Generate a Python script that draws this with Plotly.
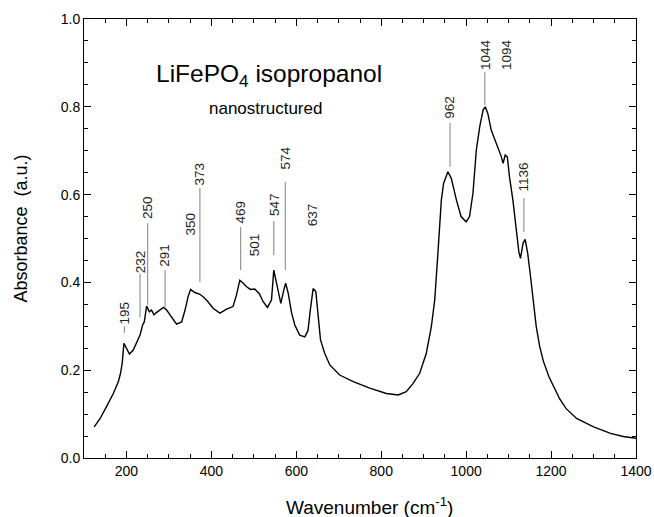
import plotly.graph_objects as go

# ---- spectrum data ----
wavenumber = [124, 138, 153, 169, 181, 186, 190, 194, 200, 207, 216, 224, 232, 238, 242,
              247.5, 254, 259, 265, 269, 279, 287, 294.6, 302, 310, 318, 330, 338, 345,
              351, 361, 373, 382, 392, 404, 420, 436, 451, 459, 467, 475, 483, 492, 502,
              512.5, 522, 532, 541.5, 547, 553, 563.5, 570.6, 575, 581, 589, 596.5, 608,
              620, 627.5, 633, 639.6, 646, 651, 657, 667, 679, 702, 734, 773, 812, 840,
              859, 875, 890.6, 906, 918, 926, 930, 934, 941.6, 947, 957, 965, 977, 988,
              1000, 1008, 1016, 1024, 1032, 1040, 1045, 1051, 1059, 1071, 1083, 1087,
              1092, 1097, 1102, 1110, 1118, 1124, 1128, 1134, 1139, 1145, 1152, 1158,
              1165, 1173, 1182, 1195, 1205, 1220, 1235, 1260, 1300, 1340, 1370, 1400]
absorbance = [0.071, 0.090, 0.117, 0.147, 0.174, 0.193, 0.216, 0.261, 0.250, 0.237, 0.246,
              0.265, 0.280, 0.303, 0.310, 0.346, 0.333, 0.337, 0.326, 0.330, 0.337, 0.343,
              0.337, 0.326, 0.314, 0.305, 0.310, 0.337, 0.367, 0.384, 0.377, 0.373, 0.366,
              0.356, 0.341, 0.330, 0.339, 0.345, 0.371, 0.405, 0.398, 0.390, 0.384, 0.385,
              0.375, 0.356, 0.343, 0.360, 0.428, 0.398, 0.352, 0.383, 0.398, 0.375, 0.330,
              0.303, 0.280, 0.276, 0.290, 0.337, 0.386, 0.379, 0.322, 0.269, 0.238, 0.212,
              0.189, 0.174, 0.159, 0.147, 0.1435, 0.151, 0.170, 0.193, 0.238, 0.299, 0.360,
              0.428, 0.474, 0.588, 0.626, 0.652, 0.637, 0.588, 0.550, 0.538, 0.550, 0.603,
              0.702, 0.755, 0.793, 0.800, 0.785, 0.747, 0.717, 0.686, 0.671, 0.690, 0.686,
              0.641, 0.588, 0.527, 0.470, 0.455, 0.489, 0.498, 0.466, 0.410, 0.360, 0.300,
              0.255, 0.220, 0.185, 0.165, 0.135, 0.113, 0.090, 0.071, 0.056, 0.049, 0.045]

# ---- peak labels ----
peak_labels = [195, 232, 250, 291, 350, 373, 469, 501, 547, 574, 637, 962, 1044, 1094, 1136]
# vertical centre of each rotated label (absorbance units)
label_y = [0.330, 0.446, 0.571, 0.461, 0.532, 0.648, 0.561, 0.485, 0.578, 0.683, 0.553,
           0.798, 0.920, 0.918, 0.641]
# leader line (top, bottom) for labelled peaks; None = no line
leader_top = [0.300, 0.420, 0.535, 0.428, None, 0.615, 0.526, None, 0.540, 0.629, None,
              0.763, 0.879, None, 0.592]
leader_bottom = [0.285, 0.320, 0.349, 0.342, None, 0.401, 0.428, None, 0.462, 0.428, None,
                 0.663, 0.804, None, 0.515]

x_ticks = [200, 400, 600, 800, 1000, 1200, 1400]
y_ticks = [0.0, 0.2, 0.4, 0.6, 0.8, 1.0]

FONT = "Liberation Sans, Arial, Helvetica, sans-serif"

fig = go.Figure()
fig.add_trace(go.Scatter(x=wavenumber, y=absorbance, mode="lines",
                         line=dict(color="black", width=1.4), hoverinfo="skip",
                         showlegend=False))

annotations = []
shapes = []
for lab, ly, t, b in zip(peak_labels, label_y, leader_top, leader_bottom):
    annotations.append(dict(x=lab, y=ly, xref="x", yref="y", text=str(lab),
                            textangle=-90, showarrow=False,
                            xanchor="center", yanchor="middle",
                            font=dict(family=FONT, size=13.5, color="#222222")))
    if t is not None:
        shapes.append(dict(type="line", xref="x", yref="y", x0=lab, x1=lab, y0=b, y1=t,
                           line=dict(color="#808080", width=1)))

annotations.append(dict(x=0.336, y=0.872, xref="paper", yref="paper",
                        xanchor="center", yanchor="middle",
                        text="LiFePO<sub>4</sub> isopropanol", showarrow=False,
                        font=dict(family=FONT, size=24.5, color="black")))
annotations.append(dict(x=0.328, y=0.795, xref="paper", yref="paper",
                        xanchor="center", yanchor="middle",
                        text="nanostructured", showarrow=False,
                        font=dict(family=FONT, size=17, color="black")))
# axis titles
annotations.append(dict(x=0.518, y=-0.109, xref="paper", yref="paper",
                        xanchor="center", yanchor="middle",
                        text="Wavenumber (cm<sup>-1</sup>)", showarrow=False,
                        font=dict(family=FONT, size=19, color="black")))
annotations.append(dict(x=-0.114, y=0.523, xref="paper", yref="paper",
                        xanchor="center", yanchor="middle", textangle=-90,
                        text="Absorbance  (a.u.)", showarrow=False,
                        font=dict(family=FONT, size=18, color="black")))

axis_common = dict(showline=True, linecolor="black", linewidth=1, mirror="ticks",
                   ticks="inside", ticklen=7, tickwidth=1, tickcolor="black",
                   showgrid=False, zeroline=False, automargin=False,
                   tickfont=dict(family=FONT, size=14, color="black"))

fig.update_layout(
    width=654, height=517,
    margin=dict(l=84, r=18, t=19, b=59),
    paper_bgcolor="white", plot_bgcolor="white",
    annotations=annotations, shapes=shapes,
    xaxis=dict(range=[100, 1400], tickvals=x_ticks,
               minor=dict(ticks="inside", ticklen=4, dtick=50, tick0=100, tickcolor="black"),
               **axis_common),
    yaxis=dict(range=[0, 1.0], tickvals=y_ticks, tickformat=".1f",
               minor=dict(ticks="inside", ticklen=4, dtick=0.05, tick0=0, tickcolor="black"),
               **axis_common),
)

fig.write_html("out.html", config={"displayModeBar": False},
               post_script="document.body.style.margin='0';")
